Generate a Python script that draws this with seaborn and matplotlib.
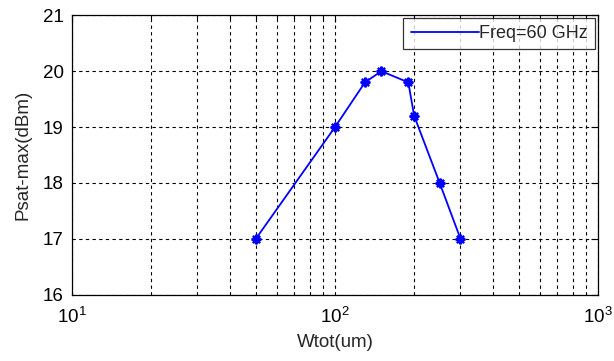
import matplotlib
matplotlib.use("Agg")
import matplotlib.pyplot as plt
import seaborn as sns
import pandas as pd
import numpy as np
from matplotlib.ticker import LogLocator, FixedLocator, NullFormatter

wtot = [50, 100, 130, 150, 190, 200, 250, 300]
psat = [17.0, 19.0, 19.8, 20.0, 19.8, 19.2, 18.0, 17.0]
series_label = "Freq=60 GHz"
x_label = "Wtot(um)"
y_label = "Psat-max(dBm)"
y_ticks = [16, 17, 18, 19, 20, 21]

sns.set_style("white")
plt.rcParams["font.family"] = ["Liberation Sans", "DejaVu Sans"]
plt.rcParams["mathtext.fontset"] = "custom"
plt.rcParams["mathtext.rm"] = "Liberation Sans"
plt.rcParams["mathtext.it"] = "Liberation Sans"

df = pd.DataFrame({"w": wtot, "p": psat})

fig = plt.figure(figsize=(6.14, 3.61), dpi=100)
ax = fig.add_axes([72/614, 1 - 294.7/361, (598-72)/614, (294.7-15.3)/361])

sns.lineplot(data=df, x="w", y="p", ax=ax, color="#0000ff", lw=1.3,
             label=series_label, sort=False)
sns.lineplot(data=df, x="w", y="p", ax=ax, color="#0000ff", lw=0,
             marker=(8, 2, 0), markersize=7, markeredgewidth=1.6,
             markeredgecolor="#0000ff", legend=False, sort=False)

ax.set_xscale("log")
ax.set_xlim(10, 1000)
ax.set_ylim(16, 21)
ax.xaxis.set_major_locator(FixedLocator([10, 100, 1000]))
ax.xaxis.set_major_formatter(matplotlib.ticker.FuncFormatter(
    lambda v, p: r"$10^{%d}$" % int(round(np.log10(v)))))
ax.xaxis.set_minor_locator(LogLocator(base=10, subs=np.arange(2, 10)))
ax.xaxis.set_minor_formatter(NullFormatter())
ax.set_yticks(y_ticks)

ax.grid(True, which="major", axis="both", color="black", linestyle=(0, (3, 3)), lw=0.8)
ax.grid(True, which="minor", axis="x", color="black", linestyle=(0, (3, 3)), lw=0.8)

ax.tick_params(axis="both", which="both", direction="in", top=True, right=True,
               labelsize=13.5, colors="black")
ax.tick_params(which="major", length=5, width=0.8)
ax.tick_params(which="minor", length=3, width=0.8)
ax.tick_params(axis="x", which="major", pad=9)
ax.tick_params(axis="y", which="major", pad=6)
for s in ax.spines.values():
    s.set_color("black")
    s.set_linewidth(0.9)
    s.set_visible(True)

ax.set_xlabel(x_label, fontsize=13.5, labelpad=5)
ax.set_ylabel(y_label, fontsize=13.5, labelpad=8)

leg = ax.legend(loc="upper right", fontsize=13, frameon=True, fancybox=False,
                edgecolor="black", borderaxespad=0.15, handlelength=3.8,
                handletextpad=0.0, borderpad=0.4)
leg.get_frame().set_linewidth(0.9)

fig.savefig("out.png", dpi=100, facecolor="white")
